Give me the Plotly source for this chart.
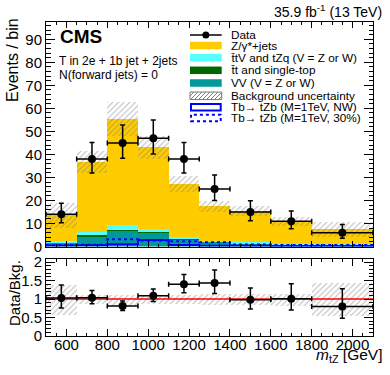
import plotly.graph_objects as go

# ---------------- data ----------------
edges = [500, 650, 800, 950, 1100, 1250, 1400, 1600, 1800, 2100]
data = [14, 38, 45, 47, 38, 25, 15, 11, 6]
data_err_up = [4.8, 7.2, 7.8, 7.9, 7.2, 6.1, 4.9, 4.4, 3.6]
data_err_dn = [3.7, 6.1, 6.7, 6.8, 6.1, 5.0, 3.8, 3.3, 2.4]

vv = [1.6, 4.4, 6.9, 6.2, 3.1, 2.0, 1.4, 0.9, 0.9]
ttbar = [0.1, 0.4, 0.4, 0.2, 0.15, 0.1, 0.1, 0.05, 0.05]
ttv = [0.6, 1.7, 2.0, 1.2, 0.9, 0.5, 0.4, 0.25, 0.25]
zjets = [11.3, 30.1, 46.2, 35.4, 23.0, 14.8, 13.4, 9.7, 6.3]
bkg_unc = [5.5, 4.7, 7.4, 5.0, 3.4, 2.5, 2.2, 1.8, 3.3]

sig_nw = [0.4, 0.5, 1.0, 2.8, 0.6, 0.3, 0.3, 0.2, 0.2]
sig_30 = [0.5, 0.8, 3.1, 2.6, 2.3, 1.8, 0.9, 0.7, 0.6]

y_ticks_ratio = [0, 0.5, 1, 1.5, 2]
y_ticktext_ratio = ["0", "0.5", "1", "1.5", "2"]

# ---------------- derived ----------------
centers = [(a + b) / 2 for a, b in zip(edges[:-1], edges[1:])]
widths = [b - a for a, b in zip(edges[:-1], edges[1:])]
halfw = [w / 2 for w in widths]

W, H = 390, 375
ML, MR, MT, MB = 46, 17, 22, 39
PW = W - ML - MR
PH = H - MT - MB


def px(x):
    return (x - ML) / PW


def py(y):
    return (H - MB - y) / PH


FONT = "Liberation Sans, Arial, Helvetica, sans-serif"
YELLOW = "#ffcc00"
CYAN = "#55ffff"
DGREEN = "#006600"
TEAL = "#009999"
HATCH = "#7a7a7a"

fig = go.Figure()

stack = [(vv, TEAL), (ttbar, DGREEN), (ttv, CYAN), (zjets, YELLOW)]
base = [0.0] * len(centers)
for vals, col in stack:
    fig.add_trace(go.Bar(x=centers, y=vals, base=list(base), width=widths,
                         marker=dict(color=col, line=dict(width=0)),
                         xaxis="x", yaxis="y", showlegend=False, hoverinfo="skip"))
    base = [b + v for b, v in zip(base, vals)]
total = base

hatch_pattern = dict(shape="/", fgcolor=HATCH, bgcolor="rgba(0,0,0,0)",
                     size=4, solidity=0.28, fillmode="overlay")

fig.add_trace(go.Bar(x=centers, y=[2 * u for u in bkg_unc],
                     base=[t - u for t, u in zip(total, bkg_unc)], width=widths,
                     marker=dict(color="rgba(0,0,0,0)", line=dict(width=0),
                                 pattern=hatch_pattern),
                     xaxis="x", yaxis="y", showlegend=False, hoverinfo="skip"))

# signals
fig.add_trace(go.Scatter(x=edges, y=sig_30 + [sig_30[-1]], mode="lines",
                         line=dict(color="#0000ff", width=2, dash="dot", shape="hv"),
                         xaxis="x", yaxis="y", showlegend=False))
fig.add_trace(go.Scatter(x=edges, y=sig_nw + [sig_nw[-1]], mode="lines",
                         line=dict(color="#0000ff", width=2, shape="hv"),
                         xaxis="x", yaxis="y", showlegend=False))

# data
fig.add_trace(go.Scatter(x=centers, y=data, mode="markers",
                         marker=dict(color="black", size=8),
                         error_y=dict(type="data", symmetric=False, array=data_err_up,
                                      arrayminus=data_err_dn, color="black",
                                      thickness=1.5, width=2.5),
                         error_x=dict(type="data", array=halfw, color="black",
                                      thickness=1.5, width=2.5),
                         xaxis="x", yaxis="y", showlegend=False))

# ratio panel
rel_unc = [u / t for u, t in zip(bkg_unc, total)]
fig.add_trace(go.Bar(x=centers, y=[2 * r for r in rel_unc],
                     base=[1 - r for r in rel_unc], width=widths,
                     marker=dict(color="rgba(0,0,0,0)", line=dict(width=0),
                                 pattern=hatch_pattern),
                     xaxis="x2", yaxis="y2", showlegend=False, hoverinfo="skip"))
fig.add_trace(go.Scatter(x=[edges[0], edges[-1]], y=[1, 1], mode="lines",
                         line=dict(color="#ff0000", width=1.5),
                         xaxis="x2", yaxis="y2", showlegend=False))
ratio = [d / t for d, t in zip(data, total)]
fig.add_trace(go.Scatter(x=centers, y=ratio, mode="markers",
                         marker=dict(color="black", size=8),
                         error_y=dict(type="data", symmetric=False,
                                      array=[e / t for e, t in zip(data_err_up, total)],
                                      arrayminus=[e / t for e, t in zip(data_err_dn, total)],
                                      color="black", thickness=1.5, width=2.5),
                         error_x=dict(type="data", array=halfw, color="black",
                                      thickness=1.5, width=2.5),
                         xaxis="x2", yaxis="y2", showlegend=False))

axis_common = dict(showline=True, linecolor="black", linewidth=1, mirror="allticks",
                   ticks="inside", showgrid=False, zeroline=False,
                   tickcolor="black", tickwidth=1,
                   tickfont=dict(family=FONT, size=15, color="black"))

main_bottom = py(246.5)
ratio_top = py(258.5)

fig.update_layout(
    width=W, height=H,
    margin=dict(l=ML, r=MR, t=MT, b=MB),
    paper_bgcolor="white", plot_bgcolor="white",
    barmode="overlay", bargap=0,
    showlegend=False,
    font=dict(family=FONT, color="black"),
    xaxis=dict(domain=[0, 1], range=[edges[0], edges[-1]], anchor="y",
               tick0=0, dtick=200, ticklen=6, showticklabels=False,
               minor=dict(dtick=50, ticklen=3, ticks="inside", tickcolor="black"),
               **axis_common),
    yaxis=dict(domain=[main_bottom, 1], range=[0, 97.5], anchor="x",
               tick0=0, dtick=10, ticklen=9,
               minor=dict(dtick=2, ticklen=4.5, ticks="inside", tickcolor="black"),
               **axis_common),
    xaxis2=dict(domain=[0, 1], range=[edges[0], edges[-1]], anchor="y2",
                tick0=0, dtick=200, ticklen=7, ticklabelstandoff=-5,
                minor=dict(dtick=50, ticklen=3.5, ticks="inside", tickcolor="black"),
                **axis_common),
    yaxis2=dict(domain=[0, ratio_top], range=[0, 2.1], anchor="x2",
                tickvals=y_ticks_ratio, ticktext=y_ticktext_ratio, ticklen=9,
                minor=dict(dtick=0.1, ticklen=4.5, ticks="inside", tickcolor="black"),
                **axis_common),
)

shapes = []
annotations = []


def text(x, y, s, size, xanchor="left", yanchor="middle", angle=0):
    annotations.append(dict(x=px(x), y=py(y), xref="paper", yref="paper", text=s,
                            showarrow=False, xanchor=xanchor, yanchor=yanchor,
                            textangle=angle, font=dict(family=FONT, size=size, color="black")))


# Labels
text(58, 36.7, "<b>CMS</b>", 19)
text(57, 61, "T in 2e + 1b jet + 2jets", 12)
text(57, 74.5, "N(forward jets) = 0", 12)
text(384, 10.5, "35.9 fb<sup>-1</sup> (13 TeV)", 14, xanchor="right")
text(13, 60, "Events / bin", 16, xanchor="center", angle=-90)
text(14, 293, "Data/Bkg.", 15, xanchor="center", angle=-90)
text(385, 355, "<i>m</i><sub>tZ</sub> [GeV]", 15.5, xanchor="right")

# Legend
LX0, LX1, TX = 190, 221.7, 229.3
BH = 7.5
leg = [
    (35.0, "data", "Data"),
    (45.5, YELLOW, "Z/γ*+jets"),
    (57.7, CYAN, "t\u0304tV and tZq (V = Z or W)"),
    (70.3, DGREEN, "t\u0304t and single-top"),
    (83.0, TEAL, "VV (V = Z or W)"),
    (95.8, "hatch", "Background uncertainty"),
    (107.2, "nw", "Tb\u2192 tZb (M=1TeV, NW)"),
    (118.0, "w30", "Tb\u2192 tZb (M=1TeV, 30%)"),
]
for yc, kind, label in leg:
    text(TX, yc, label, 11.8)
    y0, y1 = yc - BH / 2, yc + BH / 2
    if kind == "data":
        shapes.append(dict(type="line", xref="paper", yref="paper",
                           x0=px(LX0), x1=px(LX1), y0=py(yc), y1=py(yc),
                           line=dict(color="black", width=1.5)))
        xc = (LX0 + LX1) / 2
        r = 3.5
        shapes.append(dict(type="circle", xref="paper", yref="paper",
                           x0=px(xc - r), x1=px(xc + r), y0=py(yc + r), y1=py(yc - r),
                           fillcolor="black", line=dict(color="black", width=0)))
    elif kind == "hatch":
        segs = []
        h = y1 - y0
        c = LX0 - h
        while c < LX1:
            xa, ya = c, y1
            xb, yb = c + h, y0
            if xa < LX0:
                ya = y1 - (LX0 - xa)
                xa = LX0
            if xb > LX1:
                yb = y0 + (xb - LX1)
                xb = LX1
            if xb > xa:
                segs.append(f"M{px(xa):.5f},{py(ya):.5f} L{px(xb):.5f},{py(yb):.5f}")
            c += 4
        shapes.append(dict(type="path", xref="paper", yref="paper", path=" ".join(segs),
                           line=dict(color=HATCH, width=1)))
        shapes.append(dict(type="rect", xref="paper", yref="paper",
                           x0=px(LX0), x1=px(LX1), y0=py(y1), y1=py(y0),
                           line=dict(color=HATCH, width=1)))
    elif kind in ("nw", "w30"):
        shapes.append(dict(type="rect", xref="paper", yref="paper",
                           x0=px(LX0 + 1), x1=px(LX1 - 1), y0=py(y1 - 0.5), y1=py(y0 + 0.5),
                           fillcolor="white",
                           line=dict(color="#0000ff", width=2,
                                     dash="solid" if kind == "nw" else "dot")))
    else:
        shapes.append(dict(type="rect", xref="paper", yref="paper",
                           x0=px(LX0), x1=px(LX1), y0=py(y1), y1=py(y0),
                           fillcolor=kind, line=dict(width=0)))

fig.update_layout(shapes=shapes, annotations=annotations)
fig.write_html("out.html", config={"displayModeBar": False},
               post_script="document.body.style.margin='0';document.body.style.padding='0';")
